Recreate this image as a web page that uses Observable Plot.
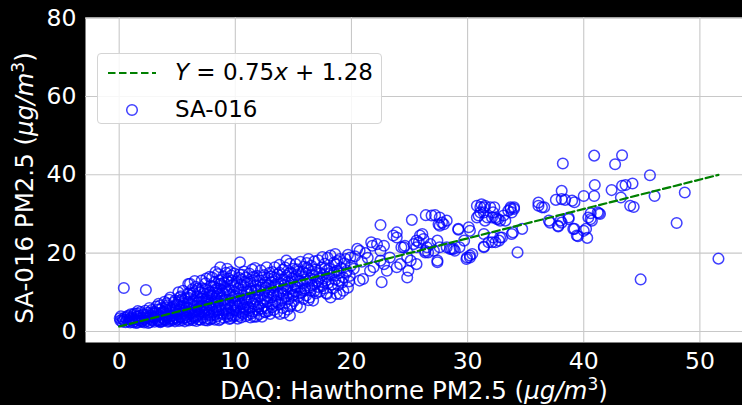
<!DOCTYPE html>
<html>
<head>
<meta charset="utf-8">
<script src="https://cdn.jsdelivr.net/npm/d3@7"></script>
<script src="https://cdn.jsdelivr.net/npm/@observablehq/plot@0.6"></script>
<style>
  html, body { margin: 0; padding: 0; background: #000; }
  #wrap { position: relative; width: 742px; height: 405px; font-family: "DejaVu Sans", sans-serif; }
  #legend { position: absolute; left: 97px; top: 53px; width: 285px; height: 71px;
    background: rgba(255,255,255,0.85); border: 1px solid #d4d4d4; border-radius: 4px; box-sizing: border-box; }
  #legend .row { position: absolute; left: 77px; font-size: 23px; color: #000; line-height: 1; white-space: nowrap; }
  #legend svg { position: absolute; left: 0; top: 0; }
</style>
</head>
<body>
<div id="wrap"></div>
<script>
// [DAQ Hawthorne PM2.5, SA-016 PM2.5] pairs
const obsUnder5 = [
  [0.05,3.4],[0.1,2.8],[0.15,3.9],[0.25,2.5],[0.3,3.2],[0.4,2.9],[0.5,3.6],[0.55,2.4],[0.65,3.0],[0.75,4.0],[0.8,2.6],[0.9,3.3],[0.95,2.3],[0.4,11.1],[0.7,3.7],
  [1.05,2.9],[1.1,3.6],[1.2,2.4],[1.25,4.2],[1.35,3.1],[1.4,2.6],[1.5,3.8],[1.55,4.6],[1.6,2.3],[1.7,3.3],[1.75,2.8],[1.8,4.0],[1.85,5.0],[1.9,2.5],[1.95,3.5],[1.45,2.2],
  [2.05,3.0],[2.1,4.4],[2.15,2.3],[2.25,5.3],[2.3,10.6],[2.3,3.6],[2.4,2.7],[2.45,4.8],[2.55,3.3],[2.6,6.0],[2.65,2.4],[2.7,4.0],[2.8,5.5],[2.85,2.9],[2.9,3.7],[2.95,4.6],[2.5,2.2],[2.75,3.1],
  [3.05,2.5],[3.1,5.0],[3.15,3.4],[3.2,6.4],[3.3,2.8],[3.35,4.2],[3.4,7.1],[3.45,3.0],[3.5,5.6],[3.55,2.4],[3.6,4.5],[3.65,3.7],[3.7,6.0],[3.75,2.7],[3.8,5.1],[3.85,3.2],[3.9,7.6],[3.95,4.0],[3.25,3.9],[3.6,2.6],
  [4.0,2.9],[4.05,5.5],[4.1,3.6],[4.15,6.7],[4.2,2.5],[4.25,4.6],[4.3,8.1],[4.35,3.3],[4.4,8.7],[4.45,5.2],[4.5,2.8],[4.55,4.1],[4.6,6.3],[4.65,3.0],[4.7,7.4],[4.75,4.9],[4.8,2.6],[4.85,5.8],[4.9,3.5],[4.95,6.9],[4.5,3.9],[4.3,2.7],
  [1.15,3.2],[1.3,4.6],[1.65,3.9],[2.0,2.6],[2.2,3.3],[2.35,4.2],[2.6,3.6],[2.9,5.0],[1.0,4.4],[1.6,5.2],
  [3.0,3.6],[3.2,4.7],[3.4,2.6],[3.5,6.6],[3.7,4.9],[3.9,3.0],[4.0,6.1],[4.2,4.0],[4.4,5.9],[4.6,3.4],[4.7,5.6],[4.9,4.4],[4.8,7.9],[4.1,7.2],[3.3,5.6]
];
const obs5to10 = [
  [5.0,3.1],[5.05,4.4],[5.1,10.0],[5.1,7.8],[5.15,2.7],[5.2,5.6],[5.25,3.8],[5.3,9.0],[5.35,6.5],[5.4,2.9],[5.45,4.9],[5.5,10.4],[5.5,3.4],[5.55,7.2],[5.6,5.3],[5.65,2.6],[5.7,8.5],[5.75,4.2],[5.8,6.1],[5.85,3.0],[5.9,9.6],[5.95,12.1],[5.95,5.0],[5.3,3.6],[5.8,3.7],
  [6.0,2.8],[6.05,7.0],[6.1,12.2],[6.1,4.5],[6.15,9.2],[6.2,3.3],[6.25,5.8],[6.3,10.8],[6.35,2.9],[6.4,8.0],[6.45,4.0],[6.5,6.6],[6.55,3.5],[6.6,11.4],[6.6,5.1],[6.65,2.7],[6.7,9.0],[6.75,7.3],[6.8,4.3],[6.85,3.1],[6.9,10.1],[6.95,6.0],[6.5,12.9],[6.2,6.9],[6.8,5.5],[6.4,3.7],
  [7.0,3.0],[7.05,8.4],[7.1,5.2],[7.1,13.0],[7.15,11.0],[7.2,3.6],[7.25,6.7],[7.3,9.7],[7.35,4.4],[7.4,2.9],[7.45,12.3],[7.5,7.5],[7.5,13.5],[7.55,5.6],[7.6,3.3],[7.65,10.5],[7.7,8.0],[7.75,4.8],[7.8,14.0],[7.8,6.3],[7.85,3.1],[7.9,11.7],[7.95,9.2],[7.3,5.9],[7.6,2.8],[7.9,4.1],[7.0,10.0],[7.7,6.9],
  [8.0,13.8],[8.0,3.4],[8.05,7.1],[8.1,9.9],[8.15,5.0],[8.2,12.6],[8.25,3.0],[8.3,15.2],[8.3,8.4],[8.35,6.1],[8.4,11.0],[8.45,3.9],[8.5,14.7],[8.5,7.6],[8.55,4.7],[8.6,13.0],[8.65,9.5],[8.7,16.4],[8.7,3.2],[8.75,6.8],[8.8,11.8],[8.85,5.4],[8.9,10.3],[8.95,14.1],[8.2,4.3],[8.6,2.9],[8.9,7.9],[8.4,8.9],
  [9.0,3.5],[9.05,12.4],[9.1,8.2],[9.15,5.8],[9.2,15.0],[9.25,10.6],[9.3,3.8],[9.35,7.0],[9.4,13.5],[9.45,4.6],[9.5,3.2],[9.5,9.3],[9.55,11.6],[9.6,6.1],[9.65,14.3],[9.7,4.2],[9.75,8.6],[9.8,3.8],[9.8,12.0],[9.85,5.3],[9.9,10.0],[9.95,7.4],[9.3,16.0],[9.6,3.4],[9.1,6.6],[9.9,14.8],
  [5.1,5.2],[5.2,6.8],[5.4,8.2],[5.5,4.6],[5.6,6.2],[5.7,3.5],[5.9,7.5],[6.0,8.6],[6.0,6.0],[6.2,4.8],[6.3,7.6],[6.4,9.8],[6.5,5.4],[6.7,6.5],[6.7,3.9],[6.9,8.1],[6.9,4.7],[5.25,8.7],[6.1,10.0],[6.8,11.0],
  [7.0,6.4],[7.1,7.6],[7.2,9.0],[7.3,4.9],[7.4,10.8],[7.5,6.3],[7.6,8.7],[7.7,4.3],[7.8,10.0],[7.9,7.2],[8.0,5.8],[8.1,11.5],[8.2,7.7],[8.3,10.6],[8.4,5.4],[8.5,9.8],[8.6,6.3],[8.7,12.2],[8.8,8.5],[8.9,4.5],[8.0,9.3],[8.55,11.0],[7.4,8.2],[8.8,13.3],
  [9.0,9.6],[9.1,11.3],[9.2,7.3],[9.3,12.8],[9.4,5.3],[9.5,10.5],[9.6,8.0],[9.7,13.0],[9.8,6.7],[9.9,9.0],[9.25,4.5],[9.6,15.2]
];
const obs10to15 = [
  [10.0,4.1],[10.05,9.0],[10.1,12.8],[10.15,6.3],[10.2,3.3],[10.25,11.0],[10.3,7.8],[10.35,14.6],[10.4,17.7],[10.4,5.0],[10.45,9.9],[10.5,3.6],[10.55,13.3],[10.6,7.0],[10.65,4.5],[10.7,11.7],[10.75,15.3],[10.8,8.4],[10.85,5.6],[10.9,3.9],[10.95,10.5],[10.3,4.0],[10.7,6.1],[10.9,13.8],
  [11.0,7.4],[11.05,12.4],[11.1,4.3],[11.15,9.5],[11.2,14.8],[11.25,6.0],[11.3,3.6],[11.35,11.0],[11.4,8.1],[11.45,15.8],[11.5,5.1],[11.55,13.0],[11.6,3.8],[11.65,9.8],[11.7,6.8],[11.75,11.8],[11.8,3.8],[11.85,14.2],[11.9,8.8],[11.95,5.5],[11.4,4.6],[11.7,16.2],
  [12.0,10.6],[12.05,4.4],[12.1,13.1],[12.15,7.2],[12.2,15.6],[12.25,5.8],[12.3,3.8],[12.35,9.4],[12.4,12.0],[12.45,6.5],[12.5,14.4],[12.55,8.3],[12.6,4.9],[12.65,11.2],[12.7,16.4],[12.75,7.6],[12.8,5.2],[12.85,13.6],[12.9,9.9],[12.95,15.0],
  [13.0,4.5],[13.05,8.7],[13.1,12.5],[13.15,6.2],[13.2,15.2],[13.25,10.4],[13.3,5.5],[13.35,13.8],[13.4,16.4],[13.45,7.7],[13.5,11.4],[13.55,9.1],[13.6,5.0],[13.65,14.6],[13.7,12.0],[13.75,6.9],[13.8,17.0],[13.85,4.5],[13.9,10.1],[13.95,8.0],
  [14.0,13.2],[14.05,6.0],[14.1,15.8],[14.15,9.6],[14.2,4.8],[14.25,11.9],[14.3,7.3],[14.4,18.1],[14.4,14.2],[14.45,10.6],[14.5,5.6],[14.55,12.7],[14.6,8.4],[14.7,17.3],[14.7,4.1],[14.75,15.1],[14.8,11.0],[14.85,7.0],[14.9,13.6],[14.95,9.3],
  [10.0,11.7],[10.1,5.4],[10.2,8.4],[10.3,13.7],[10.4,7.0],[10.5,11.9],[10.6,9.2],[10.7,5.0],[10.8,12.6],[10.9,8.0],[10.0,7.0],[10.6,14.5],
  [11.0,10.2],[11.1,6.3],[11.2,8.6],[11.3,12.7],[11.4,10.3],[11.5,7.2],[11.6,14.0],[11.7,8.3],[11.8,10.6],[11.9,12.8],[12.0,6.4],[12.1,9.0],[12.2,11.2],[12.3,13.8],[12.4,7.9],[12.5,10.3],[12.6,12.5],[12.7,6.0],[12.8,9.1],[12.9,11.8],[11.2,5.3],[12.5,5.0],
  [13.0,10.8],[13.1,14.1],[13.2,7.0],[13.3,9.2],[13.4,11.9],[13.5,13.4],[13.6,7.5],[13.7,9.6],[13.8,15.0],[13.9,12.3],[14.0,8.4],[14.1,10.9],[14.2,13.3],[14.3,16.3],[14.4,9.0],[14.5,11.4],[14.6,14.8],[14.7,6.4],[14.8,12.9],[14.9,9.9]
];
const obs15to22 = [
  [15.0,16.0],[15.05,7.8],[15.1,12.0],[15.15,10.2],[15.2,17.2],[15.25,14.3],[15.3,6.6],[15.35,11.2],[15.4,8.9],[15.45,15.4],[15.5,13.0],[15.6,6.2],[15.6,17.8],[15.65,10.0],[15.7,14.7],[15.8,12.3],[15.85,8.3],[15.9,16.5],
  [16.0,11.0],[16.05,14.8],[16.1,9.2],[16.15,17.5],[16.2,12.8],[16.3,18.5],[16.3,8.0],[16.35,15.6],[16.4,8.7],[16.45,13.5],[16.5,10.5],[16.55,16.8],[16.6,11.8],[16.7,7.9],[16.75,14.2],[16.8,17.9],[16.85,12.0],[16.95,9.8],
  [17.0,15.0],[17.1,11.4],[17.15,18.2],[17.2,13.5],[17.3,10.2],[17.4,16.3],[17.45,12.6],[17.5,19.0],[17.55,14.4],[17.6,11.0],[17.7,17.3],[17.8,13.0],[17.85,9.8],[17.9,15.6],[17.95,18.8],[17.9,9.6],
  [18.0,12.4],[18.1,16.0],[18.2,19.4],[18.2,8.7],[18.3,14.3],[18.4,11.0],[18.5,17.6],[18.6,19.8],[18.6,13.2],[18.7,9.6],[18.75,15.5],[18.8,18.0],[18.85,11.8],[18.9,14.9],[19.0,18.5],[19.0,9.6],
  [19.1,16.2],[19.2,12.5],[19.3,13.8],[19.3,10.4],[19.4,17.4],[19.5,18.5],[19.55,15.0],[19.6,15.5],[19.7,19.6],[19.8,12.8],[19.9,18.9],[19.95,16.8],[19.7,11.2],[19.85,14.2],
  [20.2,16.0],[20.3,19.2],[20.5,21.1],[20.7,20.6],[20.7,13.0],[20.9,17.8],[21.0,13.4],[21.2,20.0],[21.4,18.8],[21.6,15.5],[21.8,21.9],[21.9,16.4],[21.7,22.8],
  [15.0,9.3],[15.1,14.0],[15.2,11.3],[15.3,15.9],[15.5,9.7],[15.6,12.8],[15.8,15.2],[15.9,10.4],[16.1,13.3],[16.2,16.3],[16.4,11.2],[16.6,14.5],[16.8,10.3],[16.9,15.8],[17.1,12.9],[17.3,14.8],[17.5,11.6],[17.7,16.0],[17.9,13.9],[18.1,14.7],[18.3,12.0],[18.5,15.1],[18.7,17.1],[18.9,13.0]
];
const obs22to31 = [
  [22.2,22.3],[22.5,20.6],[22.8,21.9],[22.5,27.2],[22.6,12.6],[22.5,18.1],[22.8,17.2],[23.3,18.9],[23.05,15.5],[23.6,24.5],[23.9,25.3],[23.9,24.0],[23.9,16.4],[24.2,17.2],[24.3,21.5],[24.6,21.9],[24.8,18.9],[25.1,18.1],[24.8,13.8],[24.9,15.5],[24.5,21.5],
  [25.2,28.5],[25.35,22.3],[25.6,23.2],[25.6,17.2],[25.9,24.5],[26.1,24.9],[26.2,23.6],[26.35,20.6],[26.35,20.2],[25.8,22.8],[25.6,21.5],[26.5,21.5],[26.6,20.2],[26.4,29.7],[26.9,29.6],[26.8,22.3],[27.1,20.6],
  [27.2,29.7],[27.4,23.2],[27.4,18.1],[27.4,17.7],[27.5,27.4],[27.6,29.1],[27.6,21.5],[27.6,27.0],[27.8,27.8],[27.95,27.4],[28.2,28.3],[28.2,21.5],[28.5,21.1],[28.65,21.1],[28.8,21.1],[28.9,20.6],
  [29.2,26.2],[29.2,26.0],[29.3,21.5],[29.7,23.2],[29.9,18.5],[29.95,18.9],[30.1,26.6],[30.2,25.7],[30.2,19.4],[30.2,18.9],[30.4,19.8],[30.8,32.1],[30.95,29.6],[30.8,29.1]
];
const obsOver31 = [
  [31.1,31.7],[31.1,30.4],[31.2,32.5],[31.4,31.7],[31.4,30.4],[31.5,32.1],[31.5,28.3],[31.4,24.9],[31.4,21.7],[31.4,21.5],[31.7,29.1],[31.8,22.8],[31.95,31.7],[32.1,29.1],[32.1,22.8],[32.2,30.4],[32.2,24.0],[32.3,31.7],[32.4,29.1],[32.4,22.8],
  [32.5,28.7],[32.65,28.7],[32.7,23.2],[32.8,28.3],[32.8,24.0],[32.96,24.0],[33.1,29.6],[33.25,28.3],[33.5,30.8],[33.7,31.7],[33.7,31.3],[33.8,30.4],[33.8,24.9],[33.9,25.3],[34.0,31.7],[34.0,31.3],[34.3,20.2],[34.7,26.2],
  [36.1,32.9],[36.1,32.1],[36.4,31.7],[36.6,31.7],[37.0,28.3],[37.1,27.8],[37.6,33.6],[37.8,26.8],[37.8,27.0],[38.0,28.3],[38.1,35.9],[38.1,33.8],[38.1,27.8],[38.2,42.9],[38.4,33.6],[38.7,29.1],[38.7,28.7],
  [39.0,33.4],[39.1,26.2],[39.2,33.0],[39.2,26.2],[39.4,24.5],[39.5,24.3],[40.0,34.6],[40.0,25.7],[40.2,26.2],[40.3,23.9],[40.4,29.1],[40.6,30.2],[40.6,28.7],[40.7,28.3],[40.9,34.6],[40.95,37.4],[40.9,44.9],
  [41.2,30.4],[41.3,30.2],[41.4,30.0],[42.4,36.1],[42.7,42.7],[43.2,34.2],[43.3,45.0],[43.3,37.2],[43.6,37.4],[44.2,37.8],[44.0,32.1],[44.3,31.8],[44.9,13.3],[45.7,39.9],[46.1,34.6],[48.0,27.7],[48.7,35.5],[51.6,18.6]
];

// fitted regression line
const fitSlope = 0.75;
const fitIntercept = 1.28;
const fitRange = [0, 51.6];

// axes
const xTicks = [0, 10, 20, 30, 40, 50];
const yTicks = [0, 20, 40, 60, 80];
const xDomain = [-2.9, 53.67];
const yDomain = [-2.8, 80.15];

const points = [...obsUnder5, ...obs5to10, ...obs10to15, ...obs15to22, ...obs22to31, ...obsOver31]
  .map(([x, y]) => ({x, y}));
const fitLine = fitRange.map(x => ({x, y: fitSlope * x + fitIntercept}));

const chart = Plot.plot({
  width: 742,
  height: 405,
  marginLeft: 85,
  marginRight: 0,
  marginTop: 17,
  marginBottom: 63,
  style: {background: "#000", fontFamily: "DejaVu Sans, sans-serif", overflow: "visible"},
  x: {domain: xDomain},
  y: {domain: yDomain},
  marks: [
    Plot.frame({fill: "#fff", stroke: null}),
    Plot.gridX(xTicks, {stroke: "#c8c8c8", strokeOpacity: 1, strokeWidth: 1.1}),
    Plot.gridY(yTicks, {stroke: "#c8c8c8", strokeOpacity: 1, strokeWidth: 1.1}),
    Plot.axisX(xTicks, {tickSize: 0, tickPadding: 10, fontSize: 23.5, fill: "#fff", label: null}),
    Plot.axisY(yTicks, {tickSize: 0, tickPadding: 9, fontSize: 23.5, fill: "#fff", label: null}),
    Plot.dot(points, {x: "x", y: "y", r: 5.3, stroke: "#0000ff", strokeOpacity: 0.75, strokeWidth: 1.5, fill: "none"}),
    Plot.line(fitLine, {x: "x", y: "y", stroke: "#008000", strokeWidth: 2.2, strokeDasharray: "7.5,3.5"})
  ]
});

const wrap = document.getElementById("wrap");
wrap.appendChild(chart);

const svg = d3.select(chart);
function unitLabel(sel, prefix) {
  sel.append("tspan").text(prefix);
  sel.append("tspan").attr("font-style", "italic").text("μg/m");
  sel.append("tspan").attr("dy", -9).attr("font-size", 17).text("3");
  sel.append("tspan").attr("dy", 9).text(")");
}
const xl = svg.append("text")
  .attr("x", 414).attr("y", 399)
  .attr("text-anchor", "middle").attr("fill", "#fff").attr("font-size", 24.5);
unitLabel(xl, "DAQ: Hawthorne PM2.5 (");
const yl = svg.append("text")
  .attr("transform", "translate(33,188) rotate(-90)")
  .attr("text-anchor", "middle").attr("fill", "#fff").attr("font-size", 24.5);
unitLabel(yl, "SA-016 PM2.5 (");

// legend
const legend = document.createElement("div");
legend.id = "legend";
legend.innerHTML = `
  <svg width="80" height="70">
    <line x1="10" x2="58" y1="19" y2="19" stroke="#008000" stroke-width="2.2" stroke-dasharray="7.5,3.5"/>
    <circle cx="34" cy="56" r="5.3" fill="none" stroke="#0000ff" stroke-opacity="0.75" stroke-width="1.5"/>
  </svg>
  <div class="row" style="top:7px"><i>Y</i> = 0.75<i>x</i> + 1.28</div>
  <div class="row" style="top:44px">SA-016</div>`;
wrap.appendChild(legend);
</script>
</body>
</html>
